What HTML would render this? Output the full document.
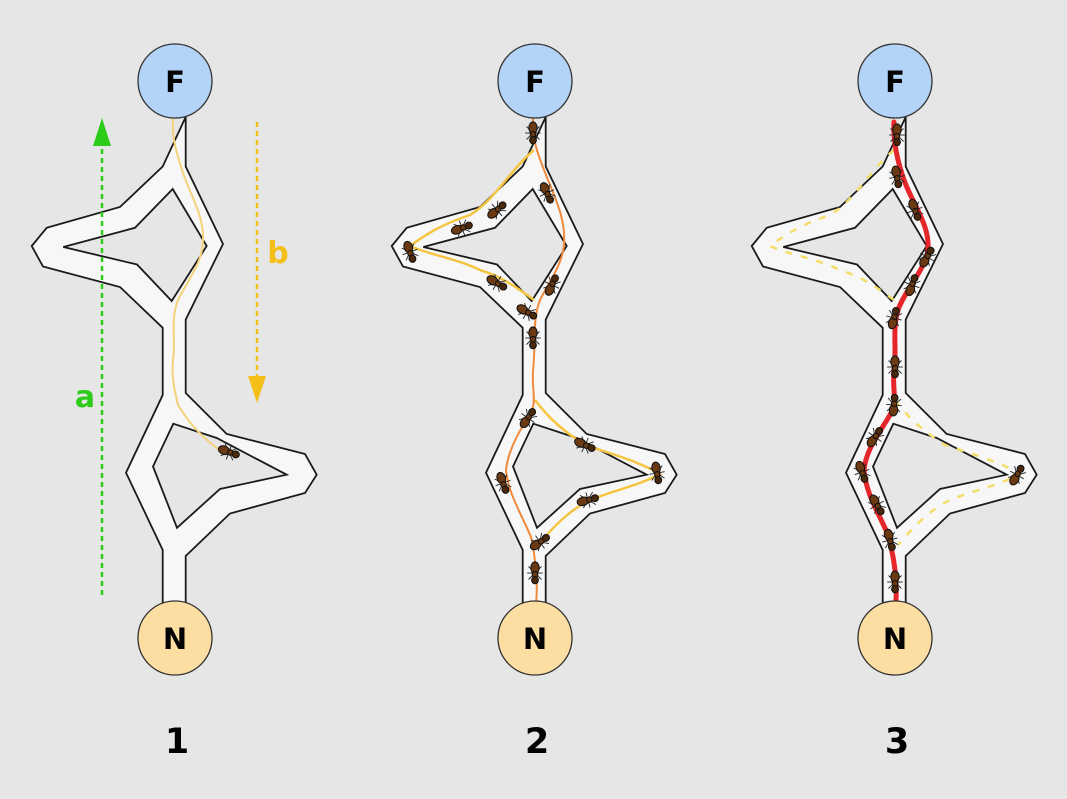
<!DOCTYPE html>
<html><head><meta charset="utf-8"><style>
html,body{margin:0;padding:0;background:#e6e6e6;}
svg{display:block;}
text{font-family:"DejaVu Sans","Liberation Sans",sans-serif;font-weight:bold;}
</style></head><body>
<svg width="1067" height="799" viewBox="0 0 1067 799" xmlns="http://www.w3.org/2000/svg">
<rect width="1067" height="799" fill="#e6e6e6"/>
<defs>
<g id="corr">
<path fill="#f7f7f7" stroke="#1a1a1a" stroke-width="1.8" fill-rule="evenodd" stroke-linejoin="miter" d="
M185.7,117 L185.7,166.5 L223,244 L185.7,319.6 L185.7,393 L226.7,434 L305,454 L316.7,474.7 L305,493 L230,513.5 L185.7,556 L185.7,604
L162.7,604 L162.7,550 L126,472.7 L162.7,395 L162.7,327.8 L120,287 L43,266.5 L31.7,246 L46.7,227.8 L120,207 L162.7,166.5 Z
M172.7,189 L206.7,246 L171.7,301 L137,264.5 L63.3,247 L135,227.8 Z
M173.3,423.7 L216.7,438 L286.7,474.7 L220,489 L177,527.8 L153,466.5 Z"/>
</g>
<g id="ant0">
<line x1="-5" y1="-5" x2="5" y2="5" stroke="#222" stroke-width="0.7"/>
<line x1="-5" y1="5" x2="5" y2="-5" stroke="#222" stroke-width="0.7"/>
<line x1="0" y1="-6" x2="0" y2="6" stroke="#222" stroke-width="0.7"/>
<ellipse cx="-4" cy="0" rx="4.5" ry="3.2" fill="#6b3a12" stroke="#111" stroke-width="0.8"/>
<ellipse cx="1.2" cy="0" rx="2.3" ry="2.1" fill="#6b3a12" stroke="#111" stroke-width="0.8"/>
<ellipse cx="5.5" cy="0" rx="2.8" ry="2.6" fill="#4a280c" stroke="#111" stroke-width="0.8"/>
</g>
<g id="ant"><use href="#ant0" transform="scale(1.3)"/></g>
</defs>

<!-- Panel 1 -->
<use href="#corr"/>
<path d="M173,118 C172,140 176,150 182,170 C190,195 204,215 203,240 C203,262 188,280 178,300 C170,320 176,340 173,360 C171,380 176,395 178,405 C190,425 205,440 222,452" fill="none" stroke="#f3d27a" stroke-width="2"/>
<use href="#ant" transform="translate(229,452) rotate(20)"/>
<line x1="102" y1="595" x2="102" y2="140" stroke="#2ecc1a" stroke-width="2.5" stroke-dasharray="5,4"/>
<polygon points="102,118 93,146 111,146" fill="#2ecc1a"/>
<line x1="257" y1="122" x2="257" y2="380" stroke="#f5bf1a" stroke-width="2.5" stroke-dasharray="5,4"/>
<polygon points="257,403 248,376 266,376" fill="#f5bf1a"/>
<text x="85" y="407" font-size="30" fill="#2ecc1a" text-anchor="middle">a</text>
<text x="278" y="263" font-size="30" fill="#f5bf1a" text-anchor="middle">b</text>

<!-- Panel 2 -->
<g transform="translate(360,0)">
<use href="#corr"/>
<path d="M174,150 C150,170 135,200 110,215 C80,225 65,235 50,246 C70,255 95,258 120,270 C145,278 160,290 174,300" fill="none" stroke="#f5c542" stroke-width="2.5"/>
<path d="M175,400 C190,420 205,432 225,445 C255,455 280,462 300,474 C280,485 255,490 230,500 C210,510 195,525 178,545" fill="none" stroke="#f5c542" stroke-width="2.5"/>
<path d="M173,118 C172,140 178,155 186,175 C196,200 206,220 204,245 C202,265 190,280 180,300 C172,320 176,345 173,370 C172,390 176,400 172,410 C160,430 148,450 146,470 C148,495 165,520 172,540 C176,565 178,585 176,604" fill="none" stroke="#f08a3c" stroke-width="2"/>
</g>
<use href="#ant" transform="translate(533,133) rotate(90)"/>
<use href="#ant" transform="translate(547,193) rotate(65)"/>
<use href="#ant" transform="translate(497,210) rotate(-40)"/>
<use href="#ant" transform="translate(462,228) rotate(-20)"/>
<use href="#ant" transform="translate(410,252) rotate(70)"/>
<use href="#ant" transform="translate(497,283) rotate(30)"/>
<use href="#ant" transform="translate(527,312) rotate(30)"/>
<use href="#ant" transform="translate(533,338) rotate(90)"/>
<use href="#ant" transform="translate(552,285) rotate(-65)"/>
<use href="#ant" transform="translate(528,418) rotate(-55)"/>
<use href="#ant" transform="translate(585,445) rotate(25)"/>
<use href="#ant" transform="translate(657,473) rotate(80)"/>
<use href="#ant" transform="translate(588,500) rotate(-15)"/>
<use href="#ant" transform="translate(503,483) rotate(70)"/>
<use href="#ant" transform="translate(540,542) rotate(-35)"/>
<use href="#ant" transform="translate(535,573) rotate(90)"/>

<!-- Panel 3 -->
<g transform="translate(720,0)">
<use href="#corr"/>
<path d="M174,150 C150,170 135,200 110,215 C80,225 65,235 50,246 C70,255 95,258 120,270 C145,278 160,290 174,300" fill="none" stroke="#f3dd6a" stroke-width="2.5" stroke-dasharray="7,9"/>
<path d="M175,400 C190,420 205,432 225,445 C255,455 280,462 300,474 C280,485 255,490 230,500 C210,510 195,525 178,545" fill="none" stroke="#f3dd6a" stroke-width="2.5" stroke-dasharray="7,9"/>
</g>
<path d="M894,122 C893,140 897,160 904,180 C913,205 930,225 928,250 C925,270 905,290 898,310 C892,330 897,350 894,370 C892,390 898,400 890,415 C878,435 866,450 864,470 C866,495 880,515 888,535 C895,560 897,580 896,600" fill="none" stroke="#e5262a" stroke-width="5" stroke-linecap="round"/>
<use href="#ant" transform="translate(897,135) rotate(90)"/>
<use href="#ant" transform="translate(897,177) rotate(80)"/>
<use href="#ant" transform="translate(915,210) rotate(70)"/>
<use href="#ant" transform="translate(927,257) rotate(-60)"/>
<use href="#ant" transform="translate(912,285) rotate(-70)"/>
<use href="#ant" transform="translate(894,318) rotate(-75)"/>
<use href="#ant" transform="translate(895,367) rotate(90)"/>
<use href="#ant" transform="translate(894,405) rotate(-85)"/>
<use href="#ant" transform="translate(875,437) rotate(-55)"/>
<use href="#ant" transform="translate(862,472) rotate(70)"/>
<use href="#ant" transform="translate(877,505) rotate(60)"/>
<use href="#ant" transform="translate(890,540) rotate(75)"/>
<use href="#ant" transform="translate(895,582) rotate(90)"/>
<use href="#ant" transform="translate(1017,475) rotate(-60)"/>

<!-- nodes -->
<g>
<circle cx="175" cy="81" r="37" fill="#b3d3f8" stroke="#333" stroke-width="1.3"/>
<circle cx="535" cy="81" r="37" fill="#b3d3f8" stroke="#333" stroke-width="1.3"/>
<circle cx="895" cy="81" r="37" fill="#b3d3f8" stroke="#333" stroke-width="1.3"/>
<circle cx="175" cy="638" r="37" fill="#fddea2" stroke="#333" stroke-width="1.3"/>
<circle cx="535" cy="638" r="37" fill="#fddea2" stroke="#333" stroke-width="1.3"/>
<circle cx="895" cy="638" r="37" fill="#fddea2" stroke="#333" stroke-width="1.3"/>
<text x="175" y="92" font-size="29" text-anchor="middle" fill="#000">F</text>
<text x="535" y="92" font-size="29" text-anchor="middle" fill="#000">F</text>
<text x="895" y="92" font-size="29" text-anchor="middle" fill="#000">F</text>
<text x="175" y="649" font-size="29" text-anchor="middle" fill="#000">N</text>
<text x="535" y="649" font-size="29" text-anchor="middle" fill="#000">N</text>
<text x="895" y="649" font-size="29" text-anchor="middle" fill="#000">N</text>
<text x="177" y="753" font-size="35" text-anchor="middle" fill="#000">1</text>
<text x="537" y="753" font-size="35" text-anchor="middle" fill="#000">2</text>
<text x="897" y="753" font-size="35" text-anchor="middle" fill="#000">3</text>
</g>
</svg>
</body></html>
